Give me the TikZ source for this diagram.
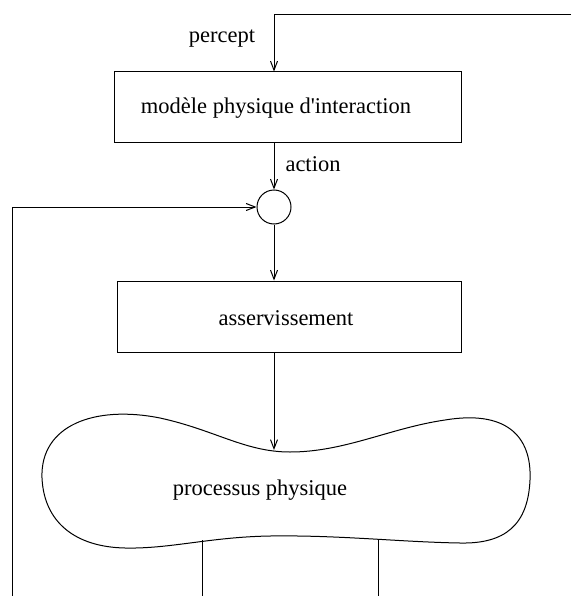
\documentclass[tikz,border=0pt]{standalone}
\usepackage{fontspec}
\setmainfont{Liberation Serif}
\usetikzlibrary{arrows.meta}
\begin{document}
\begin{tikzpicture}[x=1pt,y=-1pt,
  line width=1.0pt,
  every node/.style={font=\fontsize{22.5}{27}\selectfont},
  box/.style={draw,rectangle,inner sep=0pt},
  arr/.style={-{Straight Barb[length=9pt,width=7pt]}},
  lbl/.style={inner sep=0pt}]
\useasboundingbox (0,0) rectangle (571,596);
% boxes
\node[box,minimum width=347pt,minimum height=71pt] (model) at (287.5,107.5) {};
\node[lbl] (modeltxt) at (276,108) {modèle physique d\textquotesingle interaction};
\node[box,minimum width=344pt,minimum height=71pt] (asserv) at (289,316.5) {};
\node[lbl] (asservtxt) at (286,318) {asservissement};
\node[draw,circle,minimum size=34pt,inner sep=0pt] (sum) at (274,207) {};
% labels
\node[lbl] (percept) at (222,39) {percept};
\node[lbl] (action) at (313,164) {action};
% blob
\draw (42,478)
 .. controls (40,425) and (95,405) .. (160,418)
 .. controls (215,430) and (245,452) .. (290,452)
 .. controls (345,452) and (390,428) .. (445,420)
 .. controls (505,410) and (532,435) .. (530,480)
 .. controls (528,525) and (505,544) .. (460,543)
 .. controls (400,542) and (340,535) .. (270,536)
 .. controls (210,537) and (170,549) .. (125,548)
 .. controls (75,547) and (44,522) .. (42,478) -- cycle;
\node[lbl] (proc) at (260,490) {processus physique};
\coordinate (procTop) at (274,450);
\coordinate (procBL) at (202,540);
\coordinate (procBR) at (378,539);
\coordinate (outL) at (202,596);
\coordinate (outR) at (378,596);
\coordinate (topR) at (571,15);
\coordinate (fbB) at (12,596);
% connectors
\draw[arr] (topR) -| (model.north -| sum);
\draw[arr] (model.south -| sum) -- (sum.north);
\draw[arr] (sum.south) -- (asserv.north -| sum);
\draw[arr] (asserv.south -| sum) -- (procTop);
\draw[arr] (fbB) |- (sum.west);
\draw (procBL) -- (outL);
\draw (procBR) -- (outR);
\end{tikzpicture}
\end{document}
